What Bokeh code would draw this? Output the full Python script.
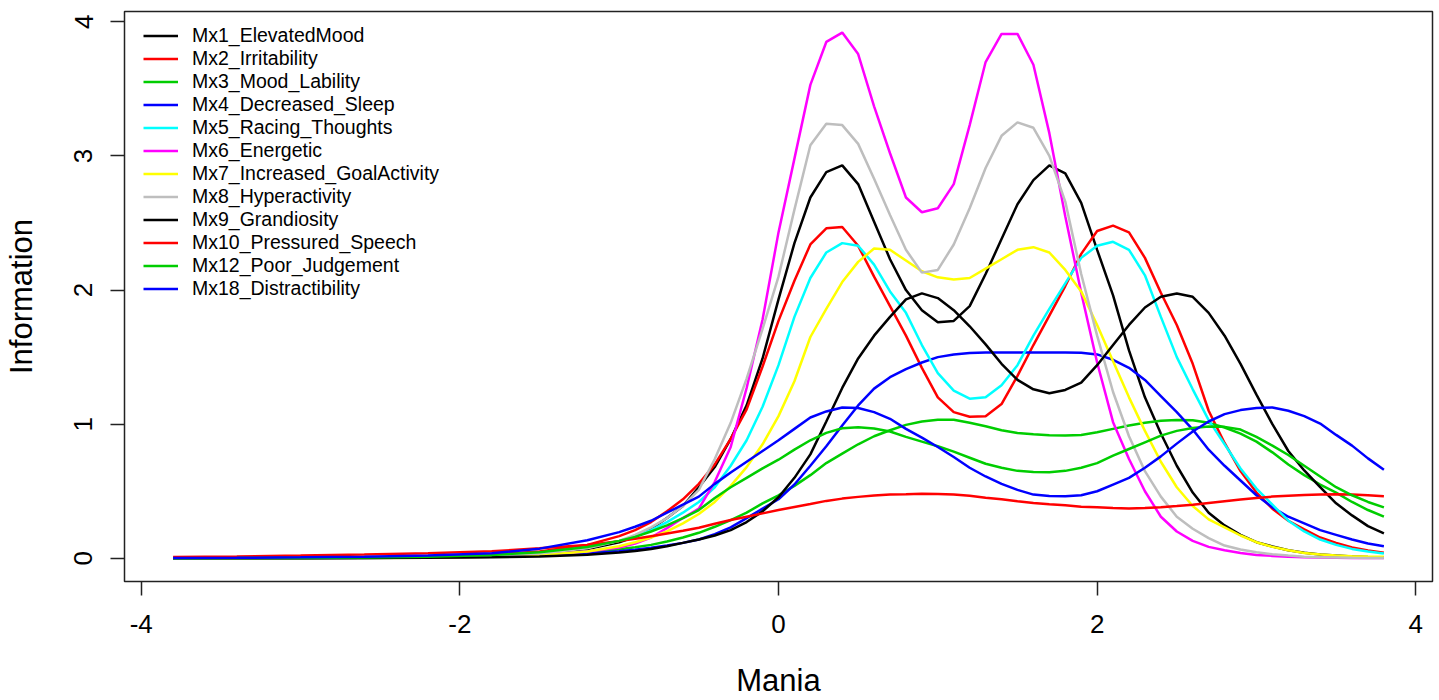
from bokeh.plotting import figure
from bokeh.models import Range1d, FixedTicker, Legend, LegendItem
from bokeh.embed import file_html
from bokeh.resources import INLINE

# Theta grid (Mania)
theta = [-3.8, -3.4, -3.0, -2.6, -2.2, -1.8, -1.5, -1.2,
         -1.0, -0.9, -0.8, -0.7, -0.6, -0.5, -0.4, -0.3, -0.2, -0.1,
         0.0, 0.1, 0.2, 0.3, 0.4, 0.5, 0.6, 0.7, 0.8, 0.9,
         1.0, 1.1, 1.2, 1.3, 1.4, 1.5, 1.6, 1.7, 1.8, 1.9,
         2.0, 2.1, 2.2, 2.3, 2.4, 2.5, 2.6, 2.7, 2.8, 2.9,
         3.0, 3.1, 3.2, 3.3, 3.4, 3.5, 3.6, 3.7, 3.8]

mx1 = [0.0, 0.001, 0.002, 0.004, 0.008, 0.018, 0.035, 0.07,
       0.12, 0.16, 0.22, 0.30, 0.39, 0.53, 0.68, 0.89, 1.14, 1.49,
       1.93, 2.35, 2.69, 2.88, 2.93, 2.79, 2.51, 2.23, 2.00, 1.85,
       1.76, 1.77, 1.88, 2.12, 2.38, 2.64, 2.82, 2.93, 2.87, 2.65,
       2.30, 1.96, 1.55, 1.20, 0.93, 0.69, 0.49, 0.34, 0.245, 0.175,
       0.12, 0.088, 0.06, 0.042, 0.028, 0.02, 0.013, 0.009, 0.006]

mx2 = [0.0, 0.001, 0.003, 0.006, 0.013, 0.027, 0.05, 0.1,
       0.165, 0.21, 0.27, 0.35, 0.44, 0.555, 0.70, 0.89, 1.11, 1.43,
       1.77, 2.07, 2.34, 2.46, 2.47, 2.33, 2.10, 1.88, 1.66, 1.42,
       1.20, 1.09, 1.055, 1.06, 1.15, 1.36, 1.59, 1.81, 2.03, 2.27,
       2.44, 2.48, 2.43, 2.24, 1.98, 1.74, 1.45, 1.10, 0.86, 0.65,
       0.49, 0.37, 0.28, 0.215, 0.155, 0.115, 0.08, 0.058, 0.042]

mx3 = [0.0, 0.001, 0.002, 0.004, 0.007, 0.015, 0.025, 0.045,
       0.067, 0.082, 0.10, 0.125, 0.155, 0.19, 0.235, 0.285, 0.34, 0.41,
       0.47, 0.54, 0.62, 0.71, 0.78, 0.85, 0.91, 0.955, 0.995, 1.02,
       1.033, 1.033, 1.01, 0.985, 0.955, 0.935, 0.925, 0.918, 0.915, 0.92,
       0.94, 0.965, 0.99, 1.01, 1.025, 1.032, 1.03, 1.01, 0.975, 0.93,
       0.87, 0.79, 0.70, 0.62, 0.55, 0.49, 0.42, 0.36, 0.31]

mx4 = [0.0005, 0.001, 0.002, 0.003, 0.006, 0.012, 0.02, 0.036,
       0.053, 0.064, 0.078, 0.095, 0.115, 0.14, 0.18, 0.23, 0.30, 0.37,
       0.44, 0.55, 0.69, 0.835, 0.99, 1.14, 1.265, 1.35, 1.41, 1.46,
       1.50, 1.52, 1.53, 1.535, 1.535, 1.535, 1.535, 1.535, 1.535, 1.533,
       1.52, 1.48, 1.42, 1.33, 1.21, 1.09, 0.96, 0.81, 0.69, 0.58,
       0.47, 0.38, 0.31, 0.26, 0.21, 0.175, 0.14, 0.11, 0.09]

mx5 = [0.0, 0.001, 0.002, 0.004, 0.009, 0.02, 0.04, 0.08,
       0.13, 0.165, 0.21, 0.27, 0.34, 0.42, 0.53, 0.69, 0.88, 1.13,
       1.44, 1.80, 2.09, 2.28, 2.35, 2.33, 2.19, 1.99, 1.83, 1.59,
       1.38, 1.25, 1.19, 1.20, 1.29, 1.44, 1.66, 1.86, 2.05, 2.24,
       2.33, 2.36, 2.30, 2.11, 1.80, 1.50, 1.26, 1.03, 0.85, 0.67,
       0.52, 0.40, 0.28, 0.20, 0.14, 0.10, 0.07, 0.05, 0.035]

mx6 = [0.0, 0.001, 0.002, 0.004, 0.008, 0.015, 0.027, 0.05,
       0.08, 0.11, 0.155, 0.225, 0.30, 0.37, 0.57, 0.83, 1.27, 1.78,
       2.43, 2.98, 3.53, 3.85, 3.92, 3.76, 3.37, 3.02, 2.69, 2.58,
       2.61, 2.79, 3.23, 3.70, 3.91, 3.91, 3.68, 3.17, 2.55, 1.98,
       1.46, 1.015, 0.74, 0.50, 0.31, 0.20, 0.13, 0.085, 0.06, 0.04,
       0.025, 0.018, 0.012, 0.008, 0.006, 0.004, 0.003, 0.002, 0.002]

mx7 = [0.0, 0.0, 0.001, 0.002, 0.005, 0.012, 0.025, 0.05,
       0.09, 0.12, 0.155, 0.20, 0.26, 0.33, 0.42, 0.54, 0.68, 0.85,
       1.06, 1.32, 1.65, 1.86, 2.06, 2.21, 2.31, 2.30, 2.22, 2.14,
       2.095, 2.078, 2.09, 2.16, 2.23, 2.30, 2.32, 2.28, 2.15, 1.99,
       1.74, 1.47, 1.20, 0.95, 0.72, 0.53, 0.39, 0.29, 0.23, 0.17,
       0.12, 0.085, 0.06, 0.04, 0.028, 0.02, 0.016, 0.013, 0.012]

mx8 = [0.0, 0.0, 0.001, 0.003, 0.007, 0.017, 0.035, 0.075,
       0.13, 0.175, 0.23, 0.30, 0.39, 0.51, 0.74, 1.01, 1.34, 1.71,
       2.10, 2.60, 3.08, 3.24, 3.23, 3.09, 2.83, 2.56, 2.30, 2.13,
       2.15, 2.34, 2.61, 2.91, 3.15, 3.25, 3.21, 3.00, 2.66, 2.12,
       1.66, 1.24, 0.91, 0.65, 0.46, 0.31, 0.22, 0.15, 0.095, 0.065,
       0.045, 0.03, 0.02, 0.012, 0.008, 0.006, 0.004, 0.003, 0.002]

mx9 = [0.0, 0.0, 0.001, 0.002, 0.004, 0.007, 0.013, 0.026,
       0.043, 0.055, 0.07, 0.09, 0.115, 0.14, 0.17, 0.21, 0.27, 0.35,
       0.455, 0.60, 0.775, 1.02, 1.27, 1.49, 1.66, 1.80, 1.93, 1.975,
       1.94, 1.85, 1.73, 1.595, 1.45, 1.33, 1.26, 1.23, 1.255, 1.31,
       1.44, 1.59, 1.74, 1.87, 1.95, 1.975, 1.95, 1.83, 1.66, 1.45,
       1.22, 1.0, 0.80, 0.655, 0.53, 0.41, 0.32, 0.24, 0.185]

mx10 = [0.01, 0.014, 0.02, 0.028, 0.038, 0.052, 0.075, 0.10,
        0.128, 0.145, 0.165, 0.185, 0.205, 0.228, 0.258, 0.285, 0.31, 0.335,
        0.36, 0.383, 0.405, 0.428, 0.445, 0.458, 0.468, 0.475, 0.478, 0.482,
        0.48, 0.475, 0.466, 0.452, 0.44, 0.425, 0.413, 0.403, 0.395, 0.385,
        0.38, 0.375, 0.372, 0.375, 0.381, 0.39, 0.40, 0.413, 0.426, 0.438,
        0.45, 0.46, 0.467, 0.472, 0.476, 0.477, 0.476, 0.47, 0.463]

mx12 = [0.001, 0.0015, 0.003, 0.006, 0.012, 0.025, 0.045, 0.085,
        0.13, 0.16, 0.20, 0.245, 0.30, 0.36, 0.45, 0.53, 0.60, 0.67,
        0.735, 0.81, 0.88, 0.935, 0.97, 0.978, 0.968, 0.945, 0.905, 0.87,
        0.835, 0.795, 0.75, 0.705, 0.675, 0.652, 0.643, 0.642, 0.652, 0.675,
        0.71, 0.765, 0.815, 0.865, 0.915, 0.95, 0.972, 0.983, 0.98, 0.96,
        0.905, 0.84, 0.77, 0.69, 0.61, 0.53, 0.47, 0.42, 0.38]

mx18 = [0.002, 0.004, 0.007, 0.012, 0.02, 0.037, 0.072, 0.135,
        0.195, 0.235, 0.28, 0.34, 0.40, 0.46, 0.555, 0.64, 0.72, 0.80,
        0.88, 0.965, 1.05, 1.095, 1.125, 1.12, 1.09, 1.04, 0.965, 0.90,
        0.83, 0.755, 0.675, 0.61, 0.555, 0.51, 0.475, 0.465, 0.463, 0.47,
        0.50, 0.55, 0.60, 0.675, 0.76, 0.855, 0.945, 1.02, 1.075, 1.105,
        1.12, 1.125, 1.10, 1.06, 1.005, 0.92, 0.84, 0.745, 0.66]

item_labels = ["Mx1_ElevatedMood", "Mx2_Irritability", "Mx3_Mood_Lability",
               "Mx4_Decreased_Sleep", "Mx5_Racing_Thoughts", "Mx6_Energetic",
               "Mx7_Increased_GoalActivity", "Mx8_Hyperactivity", "Mx9_Grandiosity",
               "Mx10_Pressured_Speech", "Mx12_Poor_Judgement", "Mx18_Distractibility"]
item_colors = ["#000000", "#FF0000", "#00CD00", "#0000FF", "#00FFFF", "#FF00FF",
               "#FFFF00", "#BEBEBE", "#000000", "#FF0000", "#00CD00", "#0000FF"]
series = [mx1, mx2, mx3, mx4, mx5, mx6, mx7, mx8, mx9, mx10, mx12, mx18]

x_ticks = [-4, -2, 0, 2, 4]
y_ticks = [0, 1, 2, 3, 4]

FONT = "Liberation Sans"

p = figure(width=1439, height=700,
           x_range=Range1d(-4.105, 4.105), y_range=Range1d(-0.173, 4.077),
           output_backend="svg", toolbar_location=None,
           min_border_left=124, min_border_right=7,
           min_border_top=11, min_border_bottom=118)

p.background_fill_color = "white"
p.border_fill_color = "white"
p.outline_line_color = "#222222"
p.outline_line_width = 1.5
p.xgrid.visible = False
p.ygrid.visible = False

for ax in (p.xaxis[0], p.yaxis[0]):
    ax.axis_line_color = None
    ax.major_tick_line_color = "#222222"
    ax.major_tick_line_width = 1.5
    ax.major_tick_out = 14
    ax.major_tick_in = 0
    ax.minor_tick_line_color = None
    ax.major_label_text_font = FONT
    ax.major_label_text_font_size = "26px"
    ax.major_label_text_color = "black"
    ax.axis_label_text_font = FONT
    ax.axis_label_text_font_size = "31px"
    ax.axis_label_text_font_style = "normal"
    ax.axis_label_text_color = "black"

p.xaxis[0].ticker = FixedTicker(ticks=x_ticks)
p.yaxis[0].ticker = FixedTicker(ticks=y_ticks)
p.xaxis[0].major_label_overrides = {t: str(t) for t in x_ticks}
p.yaxis[0].major_label_overrides = {t: str(t) for t in y_ticks}
p.xaxis[0].axis_label = "Mania"
p.yaxis[0].axis_label = "Information"
p.xaxis[0].major_label_standoff = 19
p.yaxis[0].major_label_standoff = 18
p.xaxis[0].axis_label_standoff = 27
p.yaxis[0].axis_label_standoff = 33
p.yaxis[0].major_label_orientation = "vertical"

items = []
for vals, col, lab in zip(series, item_colors, item_labels):
    r = p.line(theta, vals, line_color=col, line_width=2.5)
    items.append(LegendItem(label=lab, renderers=[r]))

legend = Legend(items=items, location=(19, 281), padding=0, spacing=0,
                glyph_width=35, glyph_height=23, label_height=23,
                label_standoff=14, border_line_color=None,
                background_fill_alpha=0.0,
                label_text_font=FONT, label_text_font_size="19.5px",
                label_text_color="black")
p.add_layout(legend)

open("out.html", "w").write(file_html(p, INLINE))
